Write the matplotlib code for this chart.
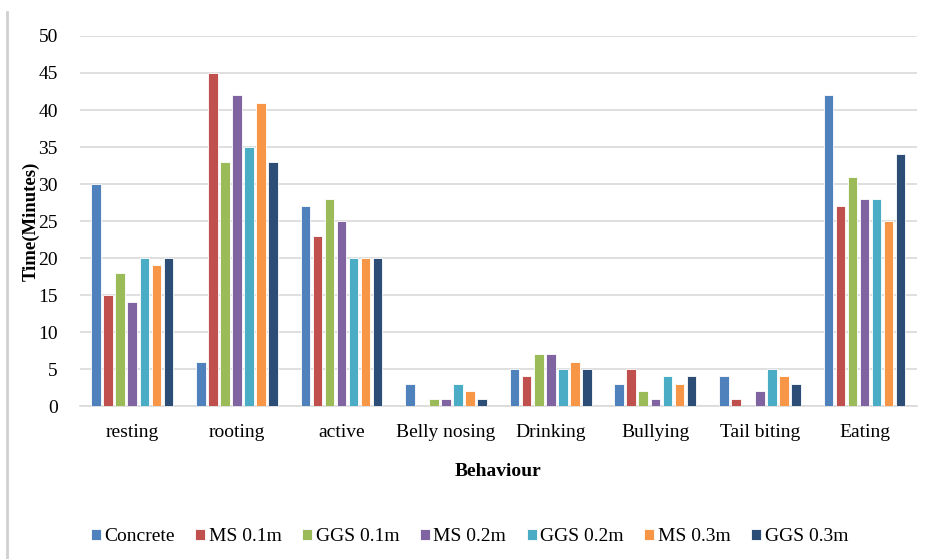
import numpy as np
import matplotlib
matplotlib.use("Agg")
import matplotlib.pyplot as plt
from matplotlib.lines import Line2D

plt.rcParams['font.family'] = ['Liberation Serif', 'DejaVu Serif']

behaviours = ["resting", "rooting", "active", "Belly nosing", "Drinking",
              "Bullying", "Tail biting", "Eating"]
series_names = ["Concrete", "MS 0.1m", "GGS 0.1m", "MS 0.2m",
                "GGS 0.2m", "MS 0.3m", "GGS 0.3m"]
concrete = [30, 6, 27, 3, 5, 3, 4, 42]
ms_01 = [15, 45, 23, 0, 4, 5, 1, 27]
ggs_01 = [18, 33, 28, 1, 7, 2, 0, 31]
ms_02 = [14, 42, 25, 1, 7, 1, 2, 28]
ggs_02 = [20, 35, 20, 3, 5, 4, 5, 28]
ms_03 = [19, 41, 20, 2, 6, 3, 4, 25]
ggs_03 = [20, 33, 20, 1, 5, 4, 3, 34]
colors = ["#4F81BD", "#C0504D", "#9BBB59", "#8064A2",
          "#4BACC6", "#F79646", "#2C4D75"]

all_series = [concrete, ms_01, ggs_01, ms_02, ggs_02, ms_03, ggs_03]

fig = plt.figure(figsize=(9.28, 5.59), dpi=100)
ax = fig.add_axes([0.0862, 0.2737, 0.9018, 0.6619])

x = np.arange(len(behaviours))
slot = 0.115
bw = 0.092
for i, (vals, name, c) in enumerate(zip(all_series, series_names, colors)):
    offs = (i - 3) * slot
    ax.bar(x + offs, vals, width=bw, color=c, label=name,
           edgecolor="white", linewidth=0.6, zorder=3)

ax.set_xlim(-0.5, len(behaviours) - 0.5)
ax.set_ylim(0, 50)
ax.set_yticks(range(0, 51, 5))
ax.grid(axis="y", color="#d9d9d9", linewidth=1.2, zorder=0)
for s in ["top", "right", "left"]:
    ax.spines[s].set_visible(False)
ax.spines["bottom"].set_color("#d9d9d9")
ax.spines["bottom"].set_linewidth(1.2)
ax.tick_params(axis="both", length=0, labelsize=14)
ax.tick_params(axis="y", pad=16)
ax.tick_params(axis="x", pad=13)
ax.set_xticks(x)
ax.set_xticklabels(behaviours)

ax.set_ylabel("Time(Minutes)", fontsize=13.5, fontweight="bold", labelpad=-1)
ax.set_xlabel("Behaviour", fontsize=14, fontweight="bold", labelpad=16)

fig.legend(loc="center", bbox_to_anchor=(0.506, 0.04), ncol=7, frameon=False,
           fontsize=14, handlelength=0.5, handleheight=0.5,
           handletextpad=0.2, columnspacing=1.05)

# thin frame line on the left edge
fig.add_artist(Line2D([0.0075, 0.0075], [0.0, 0.978], color="#d0d0d0",
                      linewidth=2, transform=fig.transFigure))

fig.savefig("out.png", dpi=100)
